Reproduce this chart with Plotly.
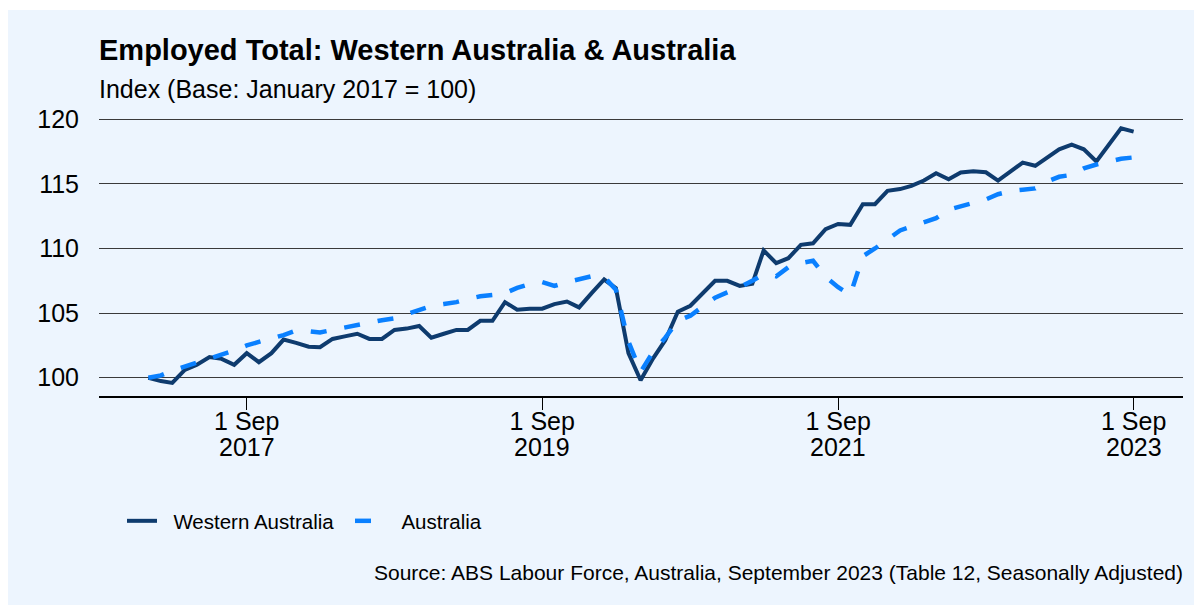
import plotly.graph_objects as go
import pandas as pd

# ---- data ----
dates = pd.date_range("2017-01-01", "2023-09-01", freq="MS")

western_australia = [
    100.0, 99.74, 99.6, 100.6, 101.0, 101.6, 101.46, 101.0, 101.9, 101.2,
    101.9, 102.95, 102.7, 102.4, 102.36, 103.0, 103.2, 103.4, 103.0, 103.0,
    103.7, 103.8, 104.0, 103.1, 103.4, 103.7, 103.7, 104.4, 104.4, 105.85,
    105.26, 105.34, 105.34, 105.7, 105.9, 105.44, 106.55, 107.6, 106.94, 101.9,
    99.8, 101.5, 102.9, 105.1, 105.57, 106.55, 107.5, 107.5, 107.1, 107.27,
    109.85, 108.87, 109.25, 110.28, 110.4, 111.5, 111.9, 111.83, 113.43, 113.43,
    114.46, 114.6, 114.85, 115.26, 115.82, 115.36, 115.88, 115.98, 115.9, 115.26,
    115.95, 116.65, 116.4, 117.04, 117.68, 118.04, 117.68, 116.73, 118.0, 119.3,
    119.05,
]

australia = [
    100.0, 100.18, 100.55, 100.85, 101.15, 101.45, 101.8, 102.1, 102.5, 102.8,
    103.05, 103.3, 103.65, 103.6, 103.5, 103.7, 103.9, 104.1, 104.3, 104.45,
    104.6, 104.9, 105.25, 105.55, 105.7, 105.85, 106.1, 106.3, 106.4, 106.55,
    106.95, 107.25, 107.4, 107.1, 107.4, 107.65, 107.85, 107.8, 106.8, 102.8,
    100.45, 102.0, 103.1, 104.4, 104.8, 105.5, 106.2, 106.6, 107.0, 107.5,
    108.0, 107.85, 108.55, 108.87, 109.05, 107.8, 107.0, 106.4, 109.4, 110.0,
    110.7, 111.4, 111.7, 112.0, 112.35, 113.0, 113.25, 113.55, 113.8, 114.2,
    114.45, 114.55, 114.65, 115.2, 115.55, 115.7, 116.2, 116.5, 116.7, 116.95,
    117.05,
]

series_names = ["Western Australia", "Australia"]
x_tick_dates = ["2017-09-01", "2019-09-01", "2021-09-01", "2023-09-01"]
x_tick_days = ["1 Sep", "1 Sep", "1 Sep", "1 Sep"]
x_tick_years = ["2017", "2019", "2021", "2023"]
y_ticks = [100, 105, 110, 115, 120]

title_text = "<b>Employed Total: Western Australia & Australia</b>"
subtitle_text = "Index (Base: January 2017 = 100)"
source_text = "Source: ABS Labour Force, Australia, September 2023 (Table 12, Seasonally Adjusted)"

FONT = "Liberation Sans, Arial, Helvetica, sans-serif"
NAVY = "#0E3B6E"
BLUE = "#0A80FF"
PANEL = "#EDF5FE"
PAD = "\u00a0\u00a0"  # small gap between legend symbol and label

fig = go.Figure()
fig.add_trace(go.Scatter(
    x=dates, y=western_australia, mode="lines", name=PAD + series_names[0],
    line=dict(color=NAVY, width=4),
))
fig.add_trace(go.Scatter(
    x=dates, y=australia, mode="lines", name=PAD + series_names[1],
    line=dict(color=BLUE, width=4.5, dash="16px,18px"),
))

W, H = 1202, 605
L, R, T, B = 91, 27, 107, 217
pw, ph = W - L - R, H - T - B


def px(xp):
    return (xp - L) / pw


def py(yp):
    return (H - B - yp) / ph


# thin white strip at the very top (panel starts a little lower)
fig.add_shape(type="rect", xref="paper", yref="paper",
              x0=px(-5), x1=px(W + 10), y0=py(2), y1=py(-5),
              fillcolor="#FFFFFF", line=dict(width=0), layer="below")

fig.add_annotation(text=title_text, xref="paper", yref="paper",
                   x=px(89), y=py(42), xanchor="left", yanchor="middle",
                   showarrow=False, font=dict(family=FONT, size=29, color="#000000"))
fig.add_annotation(text=subtitle_text, xref="paper", yref="paper",
                   x=px(89), y=py(81), xanchor="left", yanchor="middle",
                   showarrow=False, font=dict(family=FONT, size=25, color="#000000"))
fig.add_annotation(text=source_text, xref="paper", yref="paper",
                   x=px(1177), y=py(564), xanchor="right", yanchor="middle",
                   showarrow=False, font=dict(family=FONT, size=21, color="#000000"))

# second line of the x tick labels (years)
for d, yr in zip(x_tick_dates, x_tick_years):
    fig.add_annotation(text=yr, xref="x", yref="paper", x=d, y=py(438.5),
                       xanchor="center", yanchor="middle", showarrow=False,
                       font=dict(family=FONT, size=25, color="#000000"))

fig.update_layout(
    width=W, height=H,
    margin=dict(l=L, r=R, t=T, b=B, pad=0),
    paper_bgcolor=PANEL,
    plot_bgcolor="rgba(0,0,0,0)",
    font=dict(family=FONT, size=25, color="#000000"),
    showlegend=True,
    legend=dict(orientation="h", x=px(114), y=py(513), xanchor="left", yanchor="middle",
                font=dict(family=FONT, size=20.5, color="#000000"),
                bgcolor="rgba(0,0,0,0)", itemwidth=30, entrywidth=183,
                tracegroupgap=0),
    xaxis=dict(
        range=["2016-09-01", "2024-01-01"],
        tickvals=x_tick_dates, ticktext=x_tick_days,
        showgrid=False, zeroline=False,
        showline=True, linecolor="#000000", linewidth=1.5,
        ticks="outside", ticklen=12, tickwidth=1, tickcolor="#000000",
        ticklabelstandoff=-10,
        tickfont=dict(family=FONT, size=25, color="#000000"),
    ),
    yaxis=dict(
        range=[98.584, 120.333],
        tickvals=y_ticks, ticktext=[str(v) for v in y_ticks],
        showgrid=True, gridcolor="#3a3a3a", gridwidth=1,
        zeroline=False, showline=False,
        ticks="outside", ticklen=14, tickcolor="rgba(0,0,0,0)",
        tickfont=dict(family=FONT, size=25, color="#000000"),
    ),
)

fig.write_html("out.html")
